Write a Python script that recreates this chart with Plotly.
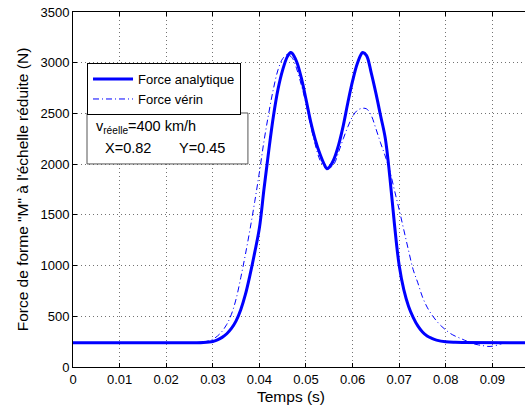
import plotly.graph_objects as go

# Force analytique (thick solid)
t_ana = [0.0, 0.026, 0.028, 0.030, 0.031, 0.032, 0.033, 0.034, 0.035, 0.036, 0.037, 0.038,
         0.039, 0.040, 0.041, 0.042, 0.043, 0.044, 0.045, 0.046, 0.0467, 0.047, 0.048,
         0.049, 0.050, 0.051, 0.052, 0.053, 0.054, 0.0545, 0.055, 0.056, 0.057, 0.058,
         0.059, 0.060, 0.061, 0.062, 0.0622, 0.063, 0.064, 0.065, 0.066, 0.067, 0.068,
         0.069, 0.070, 0.071, 0.072, 0.073, 0.074, 0.075, 0.076, 0.077, 0.078, 0.080,
         0.082, 0.097]
f_ana = [240, 240, 242, 252, 268, 292, 328, 380, 455, 565, 715, 910,
         1130, 1370, 1760, 2130, 2470, 2740, 2930, 3060, 3100, 3095, 3010,
         2850, 2640, 2420, 2240, 2100, 1990, 1955, 1970, 2050, 2190, 2380,
         2610, 2820, 2990, 3095, 3100, 3070, 2900, 2700, 2480, 2260, 1870,
         1400, 1000, 760, 600, 490, 405, 345, 305, 282, 265, 248,
         243, 240]

# Force vérin (thin dash-dot)
t_ver = [0.0, 0.027, 0.028, 0.029, 0.030, 0.031, 0.032, 0.033, 0.034, 0.035, 0.036, 0.037,
         0.038, 0.039, 0.040, 0.041, 0.042, 0.043, 0.044, 0.045, 0.046, 0.047, 0.048,
         0.049, 0.050, 0.051, 0.052, 0.053, 0.054, 0.0548, 0.056, 0.057, 0.058, 0.059,
         0.060, 0.061, 0.062, 0.063, 0.064, 0.065, 0.066, 0.067, 0.068, 0.069, 0.070,
         0.071, 0.072, 0.073, 0.074, 0.075, 0.076, 0.077, 0.078, 0.079, 0.080, 0.081,
         0.082, 0.083, 0.084, 0.085, 0.086, 0.087, 0.088, 0.089, 0.090, 0.091, 0.092,
         0.093, 0.094, 0.097]
f_ver = [240, 240, 246, 256, 274, 305, 352, 420, 520, 670, 880, 1110,
         1360, 1630, 1920, 2230, 2500, 2740, 2930, 3040, 3080, 3050, 2940,
         2780, 2600, 2380, 2190, 2040, 1970, 1955, 2000, 2120, 2250, 2370,
         2470, 2530, 2550, 2545, 2480, 2350, 2210, 2080, 1930, 1740, 1550,
         1350, 1150, 960, 830, 690, 590, 515, 455, 405, 365, 330,
         305, 285, 265, 245, 228, 218, 210, 203, 205, 215, 230,
         238, 240, 240]

x_ticks = [0, 0.01, 0.02, 0.03, 0.04, 0.05, 0.06, 0.07, 0.08, 0.09]
x_ticktext = ["0", "0.01", "0.02", "0.03", "0.04", "0.05", "0.06", "0.07", "0.08", "0.09"]
y_ticks = [0, 500, 1000, 1500, 2000, 2500, 3000, 3500]

FONT = "Liberation Sans, Arial, sans-serif"

fig = go.Figure()
fig.add_trace(go.Scatter(x=t_ana, y=f_ana, mode="lines", name="Force analytique",
                         line=dict(color="#0000FF", width=3, shape="spline", smoothing=1.0)))
fig.add_trace(go.Scatter(x=t_ver, y=f_ver, mode="lines", name="Force vérin",
                         line=dict(color="#0000FF", width=1, dash="6px,3px,1px,3px",
                                   shape="spline", smoothing=1.0)))

fig.update_layout(
    width=525, height=410,
    margin=dict(l=73, r=0, t=12, b=43, autoexpand=False),
    paper_bgcolor="white", plot_bgcolor="white",
    font=dict(family=FONT, size=13, color="black"),
    showlegend=True,
    legend=dict(x=0.031, y=0.856, xanchor="left", yanchor="top",
                bgcolor="white", bordercolor="black", borderwidth=1,
                font=dict(family=FONT, size=13), tracegroupgap=0,
                itemwidth=40),
    xaxis=dict(range=[0, 0.097], tickvals=x_ticks, ticktext=x_ticktext,
               ticks="inside", ticklen=4, tickcolor="black",
               showline=True, linecolor="black", linewidth=1, mirror="ticks",
               showgrid=True, gridcolor="rgba(0,0,0,0.55)", griddash="1px,3px", gridwidth=1,
               zeroline=False, tickfont=dict(size=13), automargin=False),
    yaxis=dict(range=[0, 3500], tickvals=y_ticks,
               ticks="inside", ticklen=4, tickcolor="black",
               showline=True, linecolor="black", linewidth=1, mirror=False,
               showgrid=True, gridcolor="rgba(0,0,0,0.55)", griddash="1px,3px", gridwidth=1,
               zeroline=False, tickfont=dict(size=13), automargin=False,
               title=dict(text='Force de forme "M" à l\'échelle réduite (N)',
                          font=dict(size=15.5), standoff=8)),
)

# x-axis title
fig.add_annotation(text="Temps (s)", xref="paper", yref="paper", x=0.482, y=-0.083,
                   xanchor="center", yanchor="middle", showarrow=False,
                   font=dict(size=15.5, family=FONT))

# info box
fig.add_shape(type="rect", xref="paper", yref="paper", x0=0.031, x1=0.387, y0=0.572, y1=0.7155,
              line=dict(color="#555555", width=1), fillcolor="white", layer="above")
fig.add_annotation(text="v<sub>réelle</sub>=400 km/h", xref="paper", yref="paper",
                   x=0.047, y=0.675, xanchor="left", yanchor="middle", showarrow=False,
                   font=dict(size=14.5, family=FONT))
fig.add_annotation(text="X=0.82", xref="paper", yref="paper",
                   x=0.066, y=0.617, xanchor="left", yanchor="middle", showarrow=False,
                   font=dict(size=14.5, family=FONT))
fig.add_annotation(text="Y=0.45", xref="paper", yref="paper",
                   x=0.230, y=0.617, xanchor="left", yanchor="middle", showarrow=False,
                   font=dict(size=14.5, family=FONT))

fig.write_html("out.html", config={"displayModeBar": False},
               post_script="document.body.style.margin='0';document.body.style.overflow='hidden';")
